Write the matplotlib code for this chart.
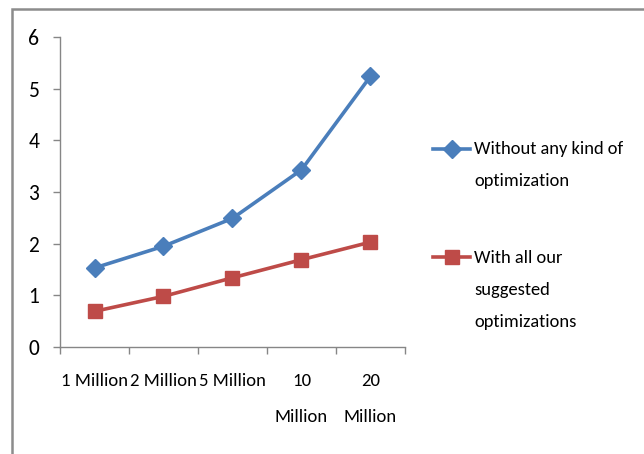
import matplotlib.pyplot as plt
from matplotlib.lines import Line2D
from matplotlib.patches import Rectangle

# data
categories = ['1 Million', '2 Million', '5 Million', '10\nMillion', '20\nMillion']
without_opt = [1.53, 1.95, 2.49, 3.43, 5.24]
with_opt = [0.69, 0.98, 1.34, 1.69, 2.03]
label_without = 'Without any kind of\noptimization'
label_with = 'With all our\nsuggested\noptimizations'

blue = '#4a7ebb'
red = '#be4b48'
grey = '#868686'

plt.rcParams['font.family'] = ['Carlito', 'DejaVu Sans']

fig = plt.figure(figsize=(6.44, 4.54), dpi=100)
ax = fig.add_axes([60/644, 1 - 347/454, 345/644, 310/454])

x = [i + 0.5 for i in range(len(categories))]
ax.plot(x, without_opt, color=blue, lw=2.6, marker='D', ms=9)
ax.plot(x, with_opt, color=red, lw=2.6, marker='s', ms=10)

ax.set_xlim(0, len(categories))
ax.set_ylim(0, 6)
ax.set_yticks(range(7))
ax.set_xticks(x)
ax.set_xticklabels(categories, fontsize=13.5, linespacing=2.5, va='top')
ax.set_xticks(range(len(categories) + 1), minor=True)
ax.tick_params(axis='x', which='major', length=0, pad=19)
ax.tick_params(axis='x', which='minor', length=5, color=grey, width=1)
ax.tick_params(axis='y', length=5, color=grey, width=1, labelsize=15.5, pad=10)
for s in ['top', 'right']:
    ax.spines[s].set_visible(False)
for s in ['left', 'bottom']:
    ax.spines[s].set_color(grey)
    ax.spines[s].set_linewidth(1)

# legend, drawn by hand so the key sits on the first text line
def key(y, color, marker, ms):
    fig.add_artist(Line2D([433/644, 470/644], [1 - y/454] * 2, color=color, lw=2.6))
    fig.add_artist(Line2D([452/644], [1 - y/454], color=color, marker=marker, ms=ms))

key(149, blue, 'D', 9)
key(257, red, 's', 10)
fig.text(474/644, 1 - 141/454, label_without, fontsize=13.3, va='top', linespacing=2.25)
fig.text(474/644, 1 - 250/454, label_with, fontsize=13.3, va='top', linespacing=2.25)

# outer frame of the picture
fig.add_artist(Rectangle((12/644, -0.1), 1.0, 1 - 9/454 + 0.1,
                         transform=fig.transFigure, fill=False,
                         edgecolor='#8c8c8c', lw=1.8))

plt.savefig('out.png', dpi=100)
